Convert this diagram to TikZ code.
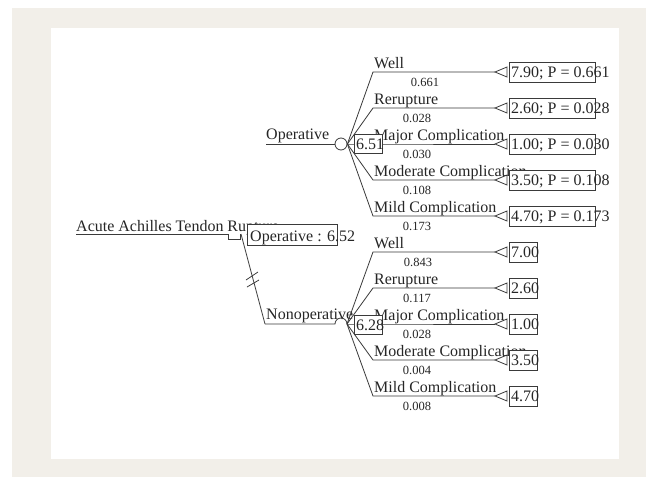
\documentclass[tikz,border=0pt]{standalone}
\usepackage{fontspec}
\setmainfont{Liberation Serif}
\usepackage{xcolor}
\definecolor{mat}{HTML}{F2EFE9}
\definecolor{ink}{HTML}{3A3A3A}
\tikzset{
	branch/.style={draw=ink, line width=0.8pt},
	lbl/.style={anchor=base west, inner sep=0pt, text=black!85, font=\fontsize{16}{17}\selectfont},
	prob/.style={inner sep=0pt, text=black!85, font=\fontsize{12.5}{13}\selectfont},
	valbox/.style={draw=ink, fill=white, line width=0.8pt, inner sep=0pt},
	endmark/.style={draw=ink, fill=white, line width=0.8pt},
	chance/.style={circle, draw=ink, line width=0.8pt, minimum size=12pt, inner sep=0pt}
}

\begin{document}
\begin{tikzpicture}[x=1pt,y=-1pt]
		\useasboundingbox (0,0) rectangle (646,477);
		%frame
		\fill[mat] (12,8) rectangle (646,477);
		\fill[white] (51,28) rectangle (619,459);
		%root
		\node[lbl] (root) at (76,231) {Acute Achilles Tendon Rupture};
		\coordinate (rootEnd) at (76,234);
		\coordinate (dec) at (228,234);
		\coordinate (decOut) at (241,234);
		\draw[branch] (rootEnd) -- (dec) -- ++(0,5) -- ++(12,0) -- ++(0,-5);
		%nonoperative arm with pruning marks
		\coordinate (noStart) at (265,324);
		\draw[branch] (decOut) -- (noStart);
		\draw[branch] (246,280) -- (258,272);
		\draw[branch] (247,287) -- (259,280);
		%decision value
		\node[valbox, minimum width=90pt, minimum height=21pt] (rootBox) at (292,234.5) {};
		\node[lbl] (rootVal) at (250,241) {Operative : 6.52};
		\begin{scope}
			%operative
			\node[lbl] (opLbl) at (266,139) {Operative};
			\coordinate (opStart) at (266,144);
			\node[chance] (opChance) at (341,144) {};
			\draw[branch] (opStart) -- (opChance.west);
			\coordinate (opWellS) at (373,72);   \coordinate (opWellT) at (495,72);
			\coordinate (opRerS) at (373,108);   \coordinate (opRerT) at (495,108);
			\coordinate (opMajS) at (373,144);   \coordinate (opMajT) at (495,144);
			\coordinate (opModS) at (373,180);   \coordinate (opModT) at (495,180);
			\coordinate (opMildS) at (373,216);  \coordinate (opMildT) at (495,216);
			\draw[branch] (opChance.east) -- (opWellS) -- (opWellT);
			\draw[branch] (opChance.east) -- (opRerS) -- (opRerT);
			\draw[branch] (opChance.east) -- (opMajS) -- (opMajT);
			\draw[branch] (opChance.east) -- (opModS) -- (opModT);
			\draw[branch] (opChance.east) -- (opMildS) -- (opMildT);
			%terminal marks
			\draw[endmark] (opWellT) -- ++(12,-5) -- ++(0,10) -- cycle;
			\draw[endmark] (opRerT) -- ++(12,-5) -- ++(0,10) -- cycle;
			\draw[endmark] (opMajT) -- ++(12,-5) -- ++(0,10) -- cycle;
			\draw[endmark] (opModT) -- ++(12,-5) -- ++(0,10) -- cycle;
			\draw[endmark] (opMildT) -- ++(12,-5) -- ++(0,10) -- cycle;
			%outcome labels
			\node[lbl] (opWellL) at (374,68) {Well};
			\node[lbl] (opRerL) at (374,104) {Rerupture};
			\node[lbl] (opMajL) at (374,140) {Major Complication};
			\node[lbl] (opModL) at (374,176) {Moderate Complication};
			\node[lbl] (opMildL) at (374,212) {Mild Complication};
			%probabilities
			\node[prob] (opWellP) at (425,82) {0.661};
			\node[prob] (opRerP) at (417,118) {0.028};
			\node[prob] (opMajP) at (417,154) {0.030};
			\node[prob] (opModP) at (417,190) {0.108};
			\node[prob] (opMildP) at (417,226) {0.173};
			%chance value
			\node[valbox, minimum width=28pt, minimum height=19pt] (opValBox) at (368,143.5) {};
			\node[lbl] (opVal) at (356,149) {6.51};
			%payoffs
			\node[valbox, minimum width=86pt, minimum height=20pt] (opWellB) at (552,72) {};
			\node[valbox, minimum width=86pt, minimum height=20pt] (opRerB) at (552,108) {};
			\node[valbox, minimum width=86pt, minimum height=20pt] (opMajB) at (552,144) {};
			\node[valbox, minimum width=86pt, minimum height=20pt] (opModB) at (552,180) {};
			\node[valbox, minimum width=86pt, minimum height=20pt] (opMildB) at (552,216) {};
			\node[lbl] (opWellV) at (511,77) {7.90; P = 0.661};
			\node[lbl] (opRerV) at (511,113) {2.60; P = 0.028};
			\node[lbl] (opMajV) at (511,149) {1.00; P = 0.030};
			\node[lbl] (opModV) at (511,185) {3.50; P = 0.108};
			\node[lbl] (opMildV) at (511,221) {4.70; P = 0.173};
		\end{scope}
		\begin{scope}[shift={(0,180)}]
			%nonoperative
			\node[lbl] (noLbl) at (266,139) {Nonoperative};
			\coordinate (noChance) at (335,144);
			\coordinate (noFan) at (347,144);
			\draw[branch] (265,144) -- (noChance) arc (180:360:6);
			\coordinate (noWellS) at (373,72);   \coordinate (noWellT) at (495,72);
			\coordinate (noRerS) at (373,108);   \coordinate (noRerT) at (495,108);
			\coordinate (noMajS) at (373,144);   \coordinate (noMajT) at (495,144);
			\coordinate (noModS) at (373,180);   \coordinate (noModT) at (495,180);
			\coordinate (noMildS) at (373,216);  \coordinate (noMildT) at (495,216);
			\draw[branch] (noFan) -- (noWellS) -- (noWellT);
			\draw[branch] (noFan) -- (noRerS) -- (noRerT);
			\draw[branch] (noFan) -- (noMajS) -- (noMajT);
			\draw[branch] (noFan) -- (noModS) -- (noModT);
			\draw[branch] (noFan) -- (noMildS) -- (noMildT);
			%terminal marks
			\draw[endmark] (noWellT) -- ++(12,-5) -- ++(0,10) -- cycle;
			\draw[endmark] (noRerT) -- ++(12,-5) -- ++(0,10) -- cycle;
			\draw[endmark] (noMajT) -- ++(12,-5) -- ++(0,10) -- cycle;
			\draw[endmark] (noModT) -- ++(12,-5) -- ++(0,10) -- cycle;
			\draw[endmark] (noMildT) -- ++(12,-5) -- ++(0,10) -- cycle;
			%outcome labels
			\node[lbl] (noWellL) at (374,68) {Well};
			\node[lbl] (noRerL) at (374,104) {Rerupture};
			\node[lbl] (noMajL) at (374,140) {Major Complication};
			\node[lbl] (noModL) at (374,176) {Moderate Complication};
			\node[lbl] (noMildL) at (374,212) {Mild Complication};
			%probabilities
			\node[prob] (noWellP) at (418,82) {0.843};
			\node[prob] (noRerP) at (417,118) {0.117};
			\node[prob] (noMajP) at (417,154) {0.028};
			\node[prob] (noModP) at (417,190) {0.004};
			\node[prob] (noMildP) at (417,226) {0.008};
			%chance value
			\node[valbox, minimum width=28pt, minimum height=19pt] (noValBox) at (368,144.5) {};
			\node[lbl] (noVal) at (356,150) {6.28};
			%payoffs
			\node[valbox, minimum width=28pt, minimum height=20pt] (noWellB) at (523,72) {};
			\node[valbox, minimum width=28pt, minimum height=20pt] (noRerB) at (523,108) {};
			\node[valbox, minimum width=28pt, minimum height=20pt] (noMajB) at (523,144) {};
			\node[valbox, minimum width=28pt, minimum height=20pt] (noModB) at (523,180) {};
			\node[valbox, minimum width=28pt, minimum height=20pt] (noMildB) at (523,216) {};
			\node[lbl] (noWellV) at (511,77) {7.00};
			\node[lbl] (noRerV) at (511,113) {2.60};
			\node[lbl] (noMajV) at (511,149) {1.00};
			\node[lbl] (noModV) at (511,185) {3.50};
			\node[lbl] (noMildV) at (511,221) {4.70};
		\end{scope}
	\end{tikzpicture}
\end{document}
